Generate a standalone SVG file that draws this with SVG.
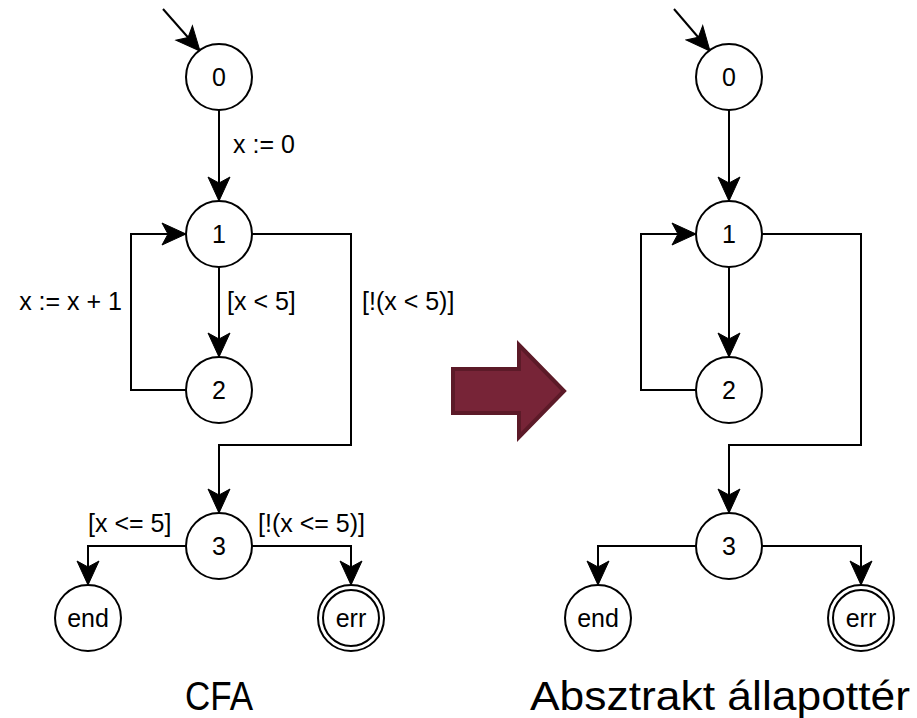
<svg xmlns="http://www.w3.org/2000/svg" width="917" height="718" viewBox="0 0 917 718">
<defs>
<marker id="ah" markerUnits="userSpaceOnUse" markerWidth="28" markerHeight="26" viewBox="0 0 28 26" refX="25" refY="13" orient="auto">
<path d="M1,2 L25,13 L1,24 L7,13 Z" fill="#000" stroke="#000" stroke-width="1" stroke-linejoin="miter"/>
</marker>
</defs>
<style>
.n{fill:#fff;stroke:#000;stroke-width:2}
.e{fill:none;stroke:#000;stroke-width:2;marker-end:url(#ah)}
.t{font-family:"Liberation Sans",Arial,sans-serif;font-size:25px;fill:#000}
.c{text-anchor:middle}
.cap{font-family:"Liberation Sans",Arial,sans-serif;font-size:40px;fill:#000}
</style>
<rect width="917" height="718" fill="#fff"/>
<g id="connectors">
<path class="e" d="M163,9 L200,51"/>
<path class="e" d="M219,110 L219,201"/>
<path class="e" d="M186,390 L131,390 L131,234 L186,234"/>
<path class="e" d="M219,267 L219,357"/>
<path class="e" d="M252,234 L351,234 L351,445 L219,445 L219,513"/>
<path class="e" d="M186,546 L88,546 L88,585"/>
<path class="e" d="M252,546 L351,546 L351,585"/>
<path class="e" d="M674,9 L710,51"/>
<path class="e" d="M729,110 L729,201"/>
<path class="e" d="M696,390 L641,390 L641,234 L696,234"/>
<path class="e" d="M729,267 L729,357"/>
<path class="e" d="M762,234 L861,234 L861,445 L729,445 L729,513"/>
<path class="e" d="M696,546 L598,546 L598,585"/>
<path class="e" d="M762,546 L861,546 L861,585"/>
</g>
<g id="edge-labels">
<text class="t" x="233" y="153">x := 0</text>
<text class="t" x="122" y="310" text-anchor="end">x := x + 1</text>
<text class="t" x="227" y="310">[x &lt; 5]</text>
<text class="t" x="362" y="310">[!(x &lt; 5)]</text>
<text class="t" x="88" y="532">[x &lt;= 5]</text>
<text class="t" x="258" y="532">[!(x &lt;= 5)]</text>
</g>
<g id="L0"><circle class="n" cx="219" cy="77" r="33"/><text class="t c" x="219" y="86">0</text></g>
<g id="L1"><circle class="n" cx="219" cy="234" r="33"/><text class="t c" x="219" y="243">1</text></g>
<g id="L2"><circle class="n" cx="219" cy="390" r="33"/><text class="t c" x="219" y="399">2</text></g>
<g id="L3"><circle class="n" cx="219" cy="546" r="33"/><text class="t c" x="219" y="555">3</text></g>
<g id="Lend"><circle class="n" cx="88" cy="618" r="33"/><text class="t c" x="88" y="627">end</text></g>
<g id="Lerr"><circle class="n" cx="351" cy="618" r="33"/><circle class="n" cx="351" cy="618" r="28"/><text class="t c" x="351" y="627">err</text></g>
<g id="R0"><circle class="n" cx="729" cy="77" r="33"/><text class="t c" x="729" y="86">0</text></g>
<g id="R1"><circle class="n" cx="729" cy="234" r="33"/><text class="t c" x="729" y="243">1</text></g>
<g id="R2"><circle class="n" cx="729" cy="390" r="33"/><text class="t c" x="729" y="399">2</text></g>
<g id="R3"><circle class="n" cx="729" cy="546" r="33"/><text class="t c" x="729" y="555">3</text></g>
<g id="Rend"><circle class="n" cx="598" cy="618" r="33"/><text class="t c" x="598" y="627">end</text></g>
<g id="Rerr"><circle class="n" cx="861" cy="618" r="33"/><circle class="n" cx="861" cy="618" r="28"/><text class="t c" x="861" y="627">err</text></g>
<g id="bigarrow">
<path d="M453,369 L519,369 L519,345 L564,391 L519,437 L519,413 L453,413 Z" fill="#772437" stroke="#5C1A28" stroke-width="4" stroke-linejoin="miter"/>
</g>
<g id="captions">
<text class="cap" x="185" y="710" textLength="68" lengthAdjust="spacingAndGlyphs">CFA</text>
<text class="cap" x="530" y="710" textLength="380" lengthAdjust="spacingAndGlyphs">Absztrakt állapottér</text>
</g>
</svg>
